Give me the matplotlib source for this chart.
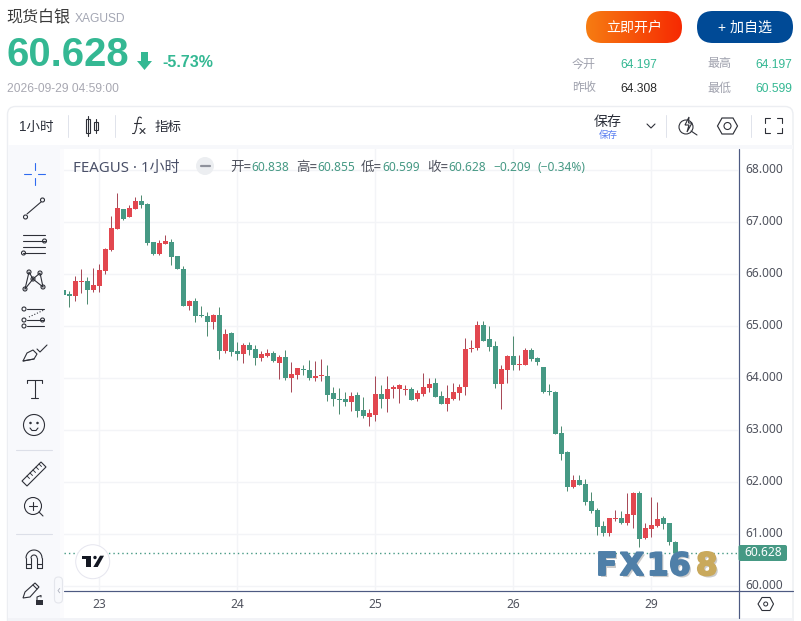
#!/usr/bin/env python3
"""Silver hourly candlestick quote page, drawn with matplotlib."""

import matplotlib
matplotlib.use('Agg')
import matplotlib.pyplot as plt
import matplotlib.patches as mpatches
import matplotlib.patheffects as pe
import numpy as np

opens = [65.68, 65.603, 65.564, 65.834, 65.853, 65.68, 65.757, 66.045, 66.449, 66.853,
         67.237, 67.083, 67.237, 67.391, 67.333, 66.603, 66.372, 66.564, 66.603, 66.333,
         66.084, 65.372, 65.468, 65.199, 65.18, 65.064, 65.199, 64.507, 64.852, 64.506,
         64.449, 64.622, 64.545, 64.372, 64.41, 64.468, 64.275, 64.391, 63.987, 64.045,
         64.16, 64.141, 63.987, 64.025, 64.025, 63.699, 63.583, 63.583, 63.525, 63.66,
         63.372, 63.237, 63.275, 63.679, 63.583, 63.776, 63.776, 63.757, 63.776, 63.583,
         63.68, 63.795, 63.891, 63.641, 63.487, 63.583, 63.699, 63.814, 64.545, 64.564,
         65.007, 64.737, 64.603, 63.872, 64.141, 64.41, 64.237, 64.237, 64.526, 64.372,
         64.199, 63.737, 63.718, 62.93, 62.564, 61.891, 62.026, 61.949, 61.622, 61.449,
         61.141, 61.007, 61.276, 61.295, 61.199, 61.353, 61.776, 60.911, 61.084, 61.141,
         61.295, 61.199, 60.838]
highs = [65.68, 65.66, 65.949, 66.084, 65.93, 66.103, 66.18, 66.487, 67.103, 67.545,
         67.237, 67.314, 67.468, 67.507, 67.353, 66.603, 66.641, 66.737, 66.66, 66.333,
         66.141, 65.487, 65.526, 65.372, 65.257, 65.218, 65.353, 64.93, 64.872, 64.679,
         64.66, 64.679, 64.622, 64.506, 64.545, 64.506, 64.429, 64.525, 64.295, 64.179,
         64.237, 64.333, 64.314, 64.352, 64.237, 63.814, 63.795, 63.718, 63.718, 63.718,
         63.622, 63.391, 64.025, 63.852, 64.025, 63.853, 63.872, 63.853, 63.814, 63.757,
         64.083, 63.987, 63.987, 63.737, 63.853, 63.891, 63.872, 64.757, 64.718, 65.083,
         65.083, 64.987, 64.699, 64.237, 64.43, 64.795, 64.43, 64.564, 64.564, 64.391,
         64.199, 63.872, 63.737, 63.064, 62.584, 62.122, 62.122, 62.045, 61.795, 61.487,
         61.237, 61.295, 61.449, 61.43, 61.776, 61.795, 61.814, 61.199, 61.699, 61.603,
         61.334, 61.199, 60.855]
lows = [65.58, 65.353, 65.468, 65.622, 65.41, 65.641, 65.641, 65.987, 66.43, 66.853,
        67.026, 67.083, 67.237, 67.257, 66.545, 66.353, 66.353, 66.564, 66.16, 66.084,
        65.372, 65.295, 65.064, 65.16, 64.795, 64.93, 64.353, 64.468, 64.41, 64.333,
        64.275, 64.429, 64.237, 64.314, 64.391, 64.295, 63.968, 63.949, 63.718, 63.968,
        64.045, 63.949, 63.929, 63.929, 63.545, 63.449, 63.295, 63.449, 63.352, 63.237,
        63.218, 63.064, 63.16, 63.41, 63.333, 63.603, 63.507, 63.66, 63.564, 63.545,
        63.641, 63.718, 63.622, 63.487, 63.353, 63.564, 63.564, 63.66, 64.487, 64.526,
        64.699, 64.507, 63.795, 63.391, 63.891, 64.141, 64.141, 64.237, 64.314, 64.237,
        63.699, 63.66, 62.91, 62.41, 61.814, 61.872, 61.93, 61.545, 61.391, 60.968,
        60.949, 60.949, 61.237, 61.18, 61.161, 61.103, 60.738, 60.891, 60.93, 61.122,
        61.084, 60.776, 60.599]
closes = [65.584, 65.571, 65.853, 65.853, 65.68, 65.776, 66.064, 66.468, 66.872, 67.257,
          67.045, 67.257, 67.391, 67.314, 66.584, 66.372, 66.584, 66.622, 66.314, 66.084,
          65.372, 65.468, 65.18, 65.18, 65.064, 65.199, 64.507, 64.834, 64.487, 64.449,
          64.622, 64.525, 64.372, 64.449, 64.468, 64.314, 64.391, 63.987, 64.064, 64.179,
          64.141, 63.987, 64.025, 64.045, 63.66, 63.583, 63.564, 63.525, 63.641, 63.352,
          63.256, 63.314, 63.679, 63.583, 63.775, 63.814, 63.853, 63.776, 63.564, 63.699,
          63.814, 63.872, 63.622, 63.487, 63.603, 63.718, 63.814, 64.545, 64.564, 65.007,
          64.699, 64.583, 63.872, 64.16, 64.41, 64.237, 64.257, 64.526, 64.353, 64.295,
          63.718, 63.718, 62.91, 62.526, 61.891, 62.026, 61.93, 61.603, 61.43, 61.122,
          61.007, 61.295, 61.295, 61.199, 61.372, 61.776, 60.891, 61.103, 61.161, 61.276,
          61.18, 60.834, 60.628]

price_ticks = [68, 67, 66, 65, 64, 63, 62, 61, 60]
date_labels = ['23', '24', '25', '26', '29']
date_positions = [6, 29, 52, 75, 98]
last_price = 60.628

UP = '#e2474f'
DOWN = '#469984'
UP_WICK = '#a84a58'
DOWN_WICK = '#508c72'
GRID = '#f3f4f7'
AXIS = '#4d5a82'
ICON = '#2e3038'
QUOTE = '#34b893'
LABEL = '#50535e'

HEAD = ['Liberation Sans', 'Noto Sans CJK SC']
CHART = ['Noto Sans', 'Noto Sans CJK SC']

W, H = 801, 621
fig = plt.figure(figsize=(W / 100, H / 100), dpi=100, facecolor='white')

ui = fig.add_axes([0, 0, 1, 1], zorder=0)
fg = fig.add_axes([0, 0, 1, 1], zorder=2)
for a in (ui, fg):
    a.set_xlim(0, W)
    a.set_ylim(H, 0)
    a.axis('off')
fg.patch.set_alpha(0)


def txt(x, y, s, px, color, ha='left', weight='normal', family=HEAD, ax=fg):
    return ax.text(x, y + 1, s, fontsize=px * 0.72, color=color, ha=ha, va='center',
                   fontweight=weight, family=family)


def ln(xs, ys, lw=1.1, color=ICON, ax=fg, **kw):
    ax.plot(xs, ys, color=color, lw=lw * 0.72, solid_capstyle='round', **kw)


def ring(x, y, r, lw=1.1, color=ICON, face='none'):
    fg.add_patch(mpatches.Circle((x, y), r, fc=face, ec=color, lw=lw * 0.72))


def box(x0, y0, x1, y1, r, fc, ec='none', lw=0, ax=ui, z=1):
    p = mpatches.FancyBboxPatch((x0 + r, y0 + r), x1 - x0 - 2 * r, y1 - y0 - 2 * r,
                                boxstyle=f'round,pad={r}', fc=fc, ec=ec, lw=lw, zorder=z)
    ax.add_patch(p)
    return p


# page panels
box(7.5, 106.5, 793, 640, 8, 'white', ec='#eceef2', lw=1)
ui.add_patch(mpatches.Rectangle((8, 145), 785, 4, fc='#f7f8fb', zorder=2))
ui.add_patch(mpatches.Rectangle((8, 145), 52, 476, fc='#f8f9fc', zorder=2))
ui.add_patch(mpatches.Rectangle((60, 149), 4, 472, fc='#fbfbfd', zorder=2))
ui.add_patch(mpatches.Rectangle((8, 618), 785, 3, fc='#f2f3f7', zorder=3))

# header
txt(6.5, 17, '现货白银', 16, '#3a3a3a')
txt(75, 17.5, 'XAGUSD', 12, '#a4a7b4')
txt(7, 54, '60.628', 40, QUOTE, weight='bold')
fg.add_patch(mpatches.Polygon([(141, 52), (148, 52), (148, 61), (152, 61), (144.5, 70),
                               (137, 61), (141, 61)], fc=QUOTE, ec='none'))
txt(162, 61.5, '-5.73%', 16, QUOTE, weight='bold')
txt(7, 87.5, '2026-09-29 04:59:00', 12, '#a8a8b2')

# buttons
grad = np.linspace(0, 1, 96).reshape(1, -1)
cmap = matplotlib.colors.LinearSegmentedColormap.from_list('btn', ['#f67c12', '#f62a02'])
img = fg.imshow(grad, extent=(586, 682, 43, 11), cmap=cmap, aspect='auto', zorder=1)
clip = box(586, 11, 682, 43, 16, 'none', ax=fg, z=0)
img.set_clip_path(clip)
box(697, 11, 793, 43, 16, '#004a96', ax=fg, z=1)
fg.set_xlim(0, W)
fg.set_ylim(H, 0)
txt(634, 26.5, '立即开户', 14, 'white', ha='center').set_zorder(3)
txt(745, 26.5, '+ 加自选', 14, 'white', ha='center').set_zorder(3)

# quote table
txt(572, 63.5, '今开', 12, '#a0a2ae')
txt(620, 63.5, '64.197', 12, QUOTE)
txt(707, 63.5, '最高', 12, '#a0a2ae')
txt(755, 63.5, '64.197', 12, QUOTE)
txt(572, 87.5, '昨收', 12, '#a0a2ae')
txt(620, 87.5, '64.308', 12, '#2a2a2a')
txt(707, 87.5, '最低', 12, '#a0a2ae')
txt(755, 87.5, '60.599', 12, QUOTE)

# top toolbar
txt(19, 126, '1小时', 13.5, '#2a2e39')
txt(155, 126, '指标', 13.5, '#2a2e39')
txt(608, 121, '保存', 14, '#2a2e39', ha='center')
txt(608, 134, '保存', 9.5, '#5a7ff0', ha='center')
for sx in (67.5, 114.5, 665.5, 750.5):
    ln([sx, sx], [115, 137], lw=1, color='#e0e3eb')
fg.add_patch(mpatches.Rectangle((85.5, 119), 4, 14, fc='none', ec=ICON, lw=0.8))
fg.add_patch(mpatches.Rectangle((94, 122), 4, 8, fc='none', ec=ICON, lw=0.8))
ln([87.5, 87.5], [116, 136])
ln([96, 96], [119, 133])
# fx glyph
ln([141.5, 140, 138.5, 137.5, 136, 134.5, 132.5], [118, 117, 117.5, 121, 130, 133.5, 133.5])
ln([133.5, 140.5], [122.5, 122.5])
ln([140, 145], [128.5, 133.5])
ln([145, 140], [128.5, 133.5])
ln([647, 651, 655], [124, 128, 124])
ring(686, 127, 7)
ln([691, 697], [131, 135])
fg.add_patch(mpatches.Polygon([(689, 117), (685, 125), (689, 125), (687, 132), (692, 123),
                               (688.5, 123)], fc='white', ec=ICON, lw=0.8, zorder=3))
hexagon = [(717.5, 126), (722, 118), (733, 118), (737.5, 126), (733, 134), (722, 134)]
fg.add_patch(mpatches.Polygon(hexagon, fc='none', ec=ICON, lw=0.85))
ring(727.5, 126, 3.5)
for fx, fy, dx, dy in [(765, 118, 1, 1), (782, 118, -1, 1), (765, 133, 1, -1), (782, 133, -1, -1)]:
    ln([fx + 5 * dx, fx, fx], [fy, fy, fy + 5 * dy])

# chart
ax = fig.add_axes([64 / W, 1 - 590 / H, 674 / W, 441 / H], zorder=1)
ax.patch.set_alpha(0)
ax.set_xlim((64 - 63.3) / 6, (738 - 63.3) / 6)
ax.set_ylim(68 - (590 - 169.5) / 52, 68 + (169.5 - 149) / 52)
for s in ax.spines.values():
    s.set_visible(False)
ax.set_xticks(date_positions)
ax.set_yticks(price_ticks)
ax.tick_params(length=0, labelbottom=False, labelleft=False)
ax.grid(True, color=GRID, lw=1)
ax.set_axisbelow(True)

idx = np.arange(len(opens))
o, h, l, c = map(np.array, (opens, highs, lows, closes))
is_up = c >= o
ax.vlines(idx, l, h, colors=np.where(is_up, UP_WICK, DOWN_WICK), lw=0.72, zorder=2)
ax.bar(idx, np.maximum(np.abs(c - o), 0.02), bottom=np.minimum(o, c), width=5.2 / 6,
       color=np.where(is_up, UP, DOWN), linewidth=0, zorder=3)
ax.axhline(last_price, color=DOWN, lw=1, ls=(0, (1, 2.2)), zorder=1)

# price and time scales
ln([738.5, 738.5], [149, 618], lw=1.2, color=AXIS)
ln([64, 793], [590.5, 590.5], lw=1.2, color=AXIS)
for p in price_ticks:
    y = ax.transData.transform((0, p))[1]
    txt(764, H - y - 0.7, f'{p:.3f}', 12, LABEL, ha='center', family=CHART)
for pos, lab in zip(date_positions, date_labels):
    x = ax.transData.transform((pos, 0))[0]
    txt(x, 603, lab, 12, LABEL, ha='center', family=CHART)
box(738.5, 545, 787, 561, 2, DOWN, ax=fg, z=3)
txt(763, 552, '60.628', 12, 'white', ha='center', family=CHART).set_zorder(4)
hex2 = [(758, 604), (762, 597.5), (770, 597.5), (773.5, 604), (770, 610.5), (762, 610.5)]
fg.add_patch(mpatches.Polygon(hex2, fc='none', ec=ICON, lw=0.8))
ring(765.7, 604, 2, lw=1)

# legend row
txt(73, 167, 'FEAGUS · 1小时', 15, '#4a5068', family=CHART)
ring(205, 166, 9, lw=0, color='none', face='#eceef1')
ln([200.5, 209.5], [166, 166], lw=2.2, color='#8f929c')
legend_parts = [(230, '开=', LABEL), (251, '60.838', DOWN), (296, '高=', LABEL), (317, '60.855', DOWN),
                (361, '低=', LABEL), (382, '60.599', DOWN), (427, '收=', LABEL), (448, '60.628', DOWN),
                (493, '−0.209', DOWN), (537, '(−0.34%)', DOWN)]
for lx, s, col in legend_parts:
    txt(lx, 166.5, s, 13.5 if '=' in s else 12, col, family=CHART)

# TradingView badge
ring(92.7, 561.7, 17, lw=1, color='#e6e6ef', face='white')
fg.add_patch(mpatches.Polygon([(81.7, 555.7), (91, 555.7), (91, 567), (86.3, 567), (86.3, 559), (81.7, 559)],
                              fc='#131722', ec='none'))
fg.add_patch(mpatches.Polygon([(100, 555.7), (104, 555.7), (97.7, 567), (93.3, 567)], fc='#131722', ec='none'))
ring(95, 557.5, 1.7, lw=0, color='none', face='#131722')

# left toolbar
ln([24, 31], [174, 174], color='#2f6bf0')
ln([38, 45], [174, 174], color='#2f6bf0')
ln([34.5, 34.5], [163, 170], color='#2f6bf0')
ln([34.5, 34.5], [178, 185], color='#2f6bf0')

ln([27, 41], [214, 202])
ring(25.5, 217, 2)
ring(42.5, 200, 2)

for y0 in (235, 241, 247, 253):
    ln([23, 45], [y0, y0])
ring(44.5, 241, 2, face='#f8f9fc')
ring(23.5, 253, 2, face='#f8f9fc')

web = [(25, 289), (29, 272), (33, 279), (40, 273), (43, 287)]
ln([25, 29, 33, 40, 43], [289, 272, 279, 273, 287])
ln([25, 33, 43], [289, 279, 287])
for wx, wy in web:
    ring(wx, wy, 2, face='#f8f9fc')

for y0, x0 in [(309, 27), (320, 27), (326, 27)]:
    ln([x0, 44], [y0, y0])
ln([29, 44], [317, 310], ls=':')
for rx, ry in [(24, 309), (24, 320), (42.5, 320), (24, 326)]:
    ring(rx, ry, 2, face='#f8f9fc')

fg.add_patch(mpatches.Polygon([(23, 361), (27, 353), (33, 350), (37, 354), (34, 359)],
                              fc='none', ec=ICON, lw=0.8))
ln([23, 34], [361, 359])
ln([37, 40, 47], [349, 352, 345])

ln([27, 42], [380, 380])
ln([27, 27], [380, 383])
ln([42, 42], [380, 383])
ln([34.5, 34.5], [380, 398])
ln([31, 38], [398, 398])

ring(34, 425, 10.5)
ring(30.5, 423, 0.7, face=ICON)
ring(37.5, 423, 0.7, face=ICON)
ln([30, 32, 36, 38], [428, 430.5, 430.5, 428])

ln([16, 52], [450, 450], color='#dcdfe8')
ln([16, 52], [534, 534], color='#dcdfe8')

ruler = mpatches.Polygon([(22, 481), (41, 462), (46, 467), (27, 486)], fc='none', ec=ICON, lw=0.8)
fg.add_patch(ruler)
for k in range(5):
    ln([27 + 3 * k, 29.5 + 3 * k], [476 - 3 * k, 478.5 - 3 * k], lw=0.9)

ring(33, 506, 8.5)
ln([33, 33], [502, 510])
ln([29, 37], [506, 506])
ln([39, 43], [512, 516])

theta = np.linspace(np.pi, 2 * np.pi, 30)
ln(34 + 8 * np.cos(theta), 558 + 8 * np.sin(theta))
ln(34 + 3 * np.cos(theta), 558 + 3 * np.sin(theta))
ln([26, 26, 31, 31], [558, 568, 568, 558])
ln([37, 37, 42, 42], [558, 568, 568, 558])
ln([26, 31], [564, 564])
ln([37, 42], [564, 564])

fg.add_patch(mpatches.Polygon([(23, 598), (25, 592), (35, 583), (39, 587), (30, 597)],
                              fc='none', ec=ICON, lw=0.8))
ln([33, 37], [585, 589])
fg.add_patch(mpatches.Rectangle((36, 600), 7, 5, fc=ICON, ec='none'))
ln([37, 37, 41, 41], [600, 597, 595.5, 597])

box(54.5, 577, 62.5, 603, 4, '#f8f9fc', ec='#e4e6ec', lw=0.8, ax=fg, z=3)
txt(58.5, 589, '‹', 12, '#b0b4c0', ha='center', family=CHART).set_zorder(4)

# watermark, letters placed one at a time to get the wide spacing
shadow = pe.withSimplePatchShadow(offset=(1.5, -1.5), shadow_rgbFace='#999999', alpha=0.5)
stroke = pe.withStroke(linewidth=1.4, foreground='#4f7fa8')
for lx, ch in [(596, 'F'), (620, 'X'), (647, '1'), (669, '6')]:
    t = txt(lx, 565.5, ch, 31, '#4f7fa8', weight='bold', family=['DejaVu Sans'])
    t.set_path_effects([shadow, stroke, pe.Normal()])
    t.set_zorder(2)
t = txt(696, 565.5, '8', 31, '#c9a95c', weight='bold', family=['DejaVu Sans'])
t.set_path_effects([shadow, pe.withStroke(linewidth=1.4, foreground='#c9a95c'), pe.Normal()])
t.set_zorder(2)

fig.savefig('out.png', dpi=100, facecolor='white')
